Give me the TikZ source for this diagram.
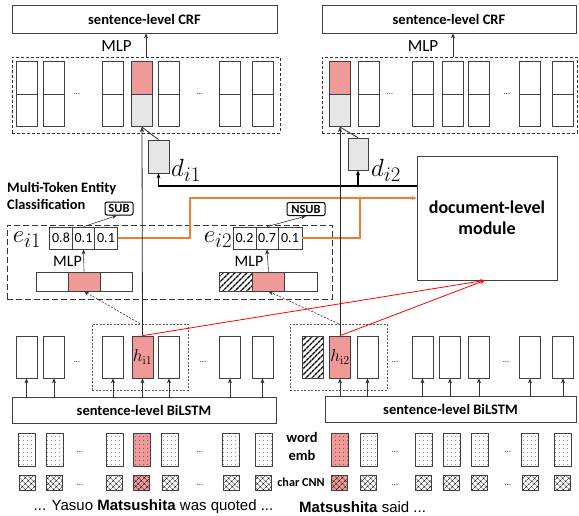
\documentclass[tikz,border=0pt]{standalone}
\usepackage[no-math]{fontspec}
\setmainfont{Carlito}
\newfontfamily\arialfont{Liberation Sans}
\usetikzlibrary{positioning,arrows.meta,patterns.meta,calc}

\definecolor{pinkfill}{RGB}{240,153,153}
\definecolor{grayfill}{RGB}{230,230,230}
\definecolor{orangeline}{RGB}{237,125,49}

\begin{document}
\begin{tikzpicture}[
  x=1pt, y=-1pt,
  >={Stealth[length=5pt,width=4pt]},
  cell/.style={draw=black!75, line width=0.7pt, minimum width=21pt, inner sep=0pt},
  embcell/.style={cell, minimum width=17pt, minimum height=33pt, pattern={Dots[distance=4pt,radius=0.45pt]}},
  charcell/.style={cell, minimum width=16pt, minimum height=15pt, pattern={Hatch[angle=45,distance=4pt,line width=0.45pt]}},
  stripecell/.style={cell, pattern={Lines[angle=45,distance=4pt,line width=1.4pt]}},
  probcell/.style={cell, minimum width=22.5pt, minimum height=22pt, font=\fontsize{14}{14}\selectfont},
  catcell/.style={cell, minimum width=32pt, minimum height=19pt},
  layerbox/.style={draw=black!75, line width=0.7pt, inner sep=0pt, font=\bfseries\fontsize{14.5}{17}\selectfont},
  dashbox/.style={draw=black!80, line width=0.7pt, dash pattern=on 3pt off 2pt, inner sep=0pt},
  longdash/.style={draw=black!80, line width=0.8pt, dash pattern=on 6pt off 3pt, inner sep=0pt},
  window/.style={draw=black!65, line width=0.7pt, dash pattern=on 2pt off 1.5pt, inner sep=0pt},
  tagbox/.style={draw, line width=1pt, rounded corners=2pt, inner sep=1pt, minimum height=13pt, font=\bfseries\fontsize{12.5}{12.5}\selectfont},
  gap/.style={font=\fontsize{8}{8}\selectfont},
  mathlab/.style={font=\fontsize{24.88}{26}\selectfont},
  mlp_txt/.style={font=\fontsize{16}{16}\selectfont},
  thinarrow/.style={->, draw=black!80, line width=0.6pt},
  upline/.style={draw=black!85, line width=0.8pt},
  oline/.style={draw=orangeline, line width=1.2pt},
  rline/.style={draw=red, line width=0.8pt}
]
\useasboundingbox (0,0) rectangle (579,515);

% --- CRF layers ---
\node[layerbox, minimum width=265pt, minimum height=28pt] (crfL) at (144.5,19) {sentence-level CRF};
\node[layerbox, minimum width=254pt, minimum height=28pt] (crfR) at (449,19) {sentence-level CRF};

% --- Output columns (left sentence) ---
\node[dashbox, minimum width=268pt, minimum height=76pt] (outL) at (146,95) {};
\foreach \i/\x/\ft/\fb in {1/27/white/white,2/54/white/white,3/113/white/white,4/142/pinkfill/grayfill,5/169/white/white,6/230/white/white,7/263/white/white}{
  \node[cell, minimum height=32.5pt, fill=\ft] (ctL\i) at (\x,78) {};
  \node[cell, minimum height=32.5pt, fill=\fb] (cbL\i) at (\x,110.5) {};
}
\node[gap] (ctLd1) at (77,94) {...};
\node[gap] (ctLd2) at (200,94) {...};

% --- Output columns (right sentence) ---
\node[dashbox, minimum width=255pt, minimum height=76pt] (outR) at (449.5,95) {};
\foreach \i/\x/\ft/\fb in {1/340/pinkfill/grayfill,2/368.5/white/white,3/422.5/white/white,4/452.5/white/white,5/479/white/white,6/530/white/white,7/562.5/white/white}{
  \node[cell, minimum height=32.5pt, fill=\ft] (ctR\i) at (\x,78) {};
  \node[cell, minimum height=32.5pt, fill=\fb] (cbR\i) at (\x,110.5) {};
}
\node[gap] (ctRd1) at (390,94) {...};
\node[gap] (ctRd2) at (507,94) {...};

% --- MLP to CRF ---
\node[font=\fontsize{17}{17}\selectfont] (mlpTL) at (116.5,46) {MLP};
\node[font=\fontsize{17}{17}\selectfont] (mlpTR) at (423,46) {MLP};
\draw[thinarrow] (outL.north) -- (outL.north |- crfL.south);
\draw[thinarrow] ([xshift=3.5pt]outR.north) -- ([xshift=3.5pt]outR.north |- crfR.south);

% --- Document-level module ---
\node[layerbox, minimum width=140pt, minimum height=124pt, align=center,
      font=\bfseries\fontsize{18}{21}\selectfont] (doc) at (487,218) {document-level\\module};

% --- Document representations ---
\node[cell, fill=grayfill, minimum height=33pt] (dL) at (158.5,156.5) {};
\node[cell, fill=grayfill, minimum width=20pt, minimum height=32pt] (dR) at (358,154) {};
\node[mathlab, anchor=west, inner sep=0pt] (dLlab) at (171,170) {$d_{i1}$};
\node[mathlab, anchor=west, inner sep=0pt] (dRlab) at (371,170) {$d_{i2}$};

\coordinate (dsplit) at (358,186);
\draw[line width=2pt] (dsplit -| doc.west) -- (dsplit);
\draw[line width=1.2pt, ->] (dsplit) -| (dL.south);
\draw[line width=1.2pt, ->] (dsplit) -- (dR.south);

% --- Multi-token entity classification ---
\node[font=\bfseries\fontsize{14.4}{17}\selectfont, align=left, anchor=west, inner sep=0pt] (mtec) at (7,195.5) {Multi-Token Entity\\Classification};
\node[longdash, minimum width=325pt, minimum height=74pt] (mteBox) at (169.5,262) {};

\node[probcell] (pL1) at (61,238) {0.8};
\node[probcell] (pL2) at (83.5,238) {0.1};
\node[probcell] (pL3) at (106,238) {0.1};
\node[probcell, minimum width=23pt] (pR1) at (244.5,238) {0.2};
\node[probcell, minimum width=22pt] (pR2) at (267,238) {0.7};
\node[probcell, minimum width=24pt] (pR3) at (290,238) {0.1};
\node[mathlab] (eL) at (27,240) {$e_{i1}$};
\node[mathlab] (eR) at (218,240) {$e_{i2}$};

\node[tagbox, minimum width=28pt] (sub) at (119,208.5) {SUB};
\node[tagbox, minimum width=38pt] (nsub) at (306,209) {NSUB};
\draw[thinarrow] (pL2.north) -- ([xshift=-2pt]sub.south);
\draw[thinarrow] (pR2.north) -- (nsub.south);

\node[catcell] (catL1) at (52,281.5) {};
\node[catcell, fill=pinkfill] (catL2) at (84,281.5) {};
\node[catcell] (catL3) at (116,281.5) {};
\node[stripecell, minimum width=32.5pt, minimum height=19pt] (catR1) at (236,281.5) {};
\node[catcell, minimum width=32.5pt, fill=pinkfill] (catR2) at (268.5,281.5) {};
\node[catcell, minimum width=32.5pt] (catR3) at (301,281.5) {};

\node[mlp_txt] (mlpL) at (67.5,261) {MLP};
\node[mlp_txt] (mlpR) at (249,261) {MLP};
\draw[thinarrow] (catL2.north) -- (pL2.south);
\draw[thinarrow] (catR2.north) -- (pR2.south);

% --- Entity features to document module ---
\coordinate (oL) at (190,198);
\coordinate (oR) at (360,198);
\draw[oline, ->] (pL3.east) -| (oL) -- (oL -| doc.west);
\draw[oline] (pR3.east) -| (oR);

% --- Hidden states (left sentence) ---
\node[window, minimum width=96pt, minimum height=66pt] (winL) at (140,357) {};
\foreach \i/\x/\f/\t in {1/26.5/white/{},2/54/white/{},3/113/white/{},4/142.5/pinkfill/{$h_{\mathrm{i1}}$},5/169/white/{},6/230/white/{},7/262.5/white/{}}{
  \node[cell, minimum height=42pt, fill=\f, font=\fontsize{17.28}{19}\selectfont] (hL\i) at (\x,357) {\t};
}
\node[gap] (hLd1) at (77,362) {...};
\node[gap] (hLd2) at (203,362) {...};

% --- Hidden states (right sentence) ---
\node[window, minimum width=97pt, minimum height=66pt] (winR) at (338.5,357) {};
\node[stripecell, minimum height=42pt] (hR0) at (312.5,357) {};
\foreach \i/\x/\f/\t in {1/340/pinkfill/{$h_{\mathrm{i2}}$},2/367.5/white/{},3/422.5/white/{},4/450/white/{},5/479/white/{},6/530/white/{},7/563/white/{}}{
  \node[cell, minimum height=42pt, fill=\f, font=\fontsize{17.28}{19}\selectfont] (hR\i) at (\x,357) {\t};
}
\node[gap] (hRd1) at (395,362) {...};
\node[gap] (hRd2) at (506,362) {...};

% --- BiLSTM layers ---
\node[layerbox, minimum width=264pt, minimum height=26pt] (lstmL) at (144,410) {sentence-level BiLSTM};
\node[layerbox, minimum width=251pt, minimum height=26pt] (lstmR) at (450.5,409) {sentence-level BiLSTM};
\foreach \i in {1,...,7}{
  \draw[thinarrow] (hL\i.south |- lstmL.north) -- (hL\i.south);
  \draw[thinarrow] (hR\i.south |- lstmR.north) -- (hR\i.south);
}

% --- Hidden to CRF columns ---
\draw[upline, ->] (hL4.north) -- (cbL4.south);
\draw[upline] (dL.north) -- (cbL4.south);
\draw[upline, ->] (hR1.north) -- (cbR1.south);
\draw[upline] (dR.north) -- (cbR1.south);

% --- Mention windows to entity classification ---
\draw[thinarrow, dash pattern=on 2pt off 1.5pt] (winL.north) -- (catL2.south);
\draw[thinarrow, dash pattern=on 2pt off 1.5pt] (winR.north) -- (catR2.south);

% --- Mentions to document module ---
\coordinate (docin) at ([xshift=-2pt]doc.south);
\draw[rline, ->] (hL4.north) -- (docin);
\draw[rline, ->] (hR1.north) -- (docin);

% --- Word embeddings and char CNN (left) ---
\foreach \i/\x/\f in {1/27/white,2/54.5/white,3/114.5/white,4/141.5/pinkfill,5/170/white,6/231/white,7/263.5/white}{
  \node[embcell, preaction={fill=\f}] (wL\i) at (\x,449.5) {};
  \node[charcell, preaction={fill=\f}] (cL\i) at (\x,482.5) {};
}
\node[gap] (wLd1) at (80,452) {...};
\node[gap] (wLd2) at (200,452) {...};
\node[gap] (cLd1) at (80,485) {...};
\node[gap] (cLd2) at (200,485) {...};

% --- Word embeddings and char CNN (right) ---
\foreach \i/\x/\f in {1/339.5/pinkfill,2/368.5/white,3/423.5/white,4/451.5/white,5/479.5/white,6/530/white,7/562.5/white}{
  \node[embcell, preaction={fill=\f}] (wR\i) at (\x,449.5) {};
  \node[charcell, preaction={fill=\f}] (cR\i) at (\x,482.5) {};
}
\node[gap] (wRd1) at (395,452) {...};
\node[gap] (wRd2) at (508,452) {...};
\node[gap] (cRd1) at (395,485) {...};
\node[gap] (cRd2) at (508,485) {...};

\node[font=\bfseries\fontsize{14.5}{18}\selectfont, align=center] (wordlab) at (302,446) {word\\emb};
\node[font=\bfseries\fontsize{12.2}{12.2}\selectfont] (charlab) at (301,482) {char CNN};

% --- Sentences ---
\node[font=\arialfont\fontsize{15}{15}\selectfont] (sentL) at (153.5,507) {... Yasuo \textbf{Matsushita} was quoted ...};
\node[font=\arialfont\fontsize{15}{15}\selectfont, anchor=west, inner sep=0pt] (sentR) at (299,507) {\textbf{Matsushita} said ...};

\end{tikzpicture}
\end{document}
